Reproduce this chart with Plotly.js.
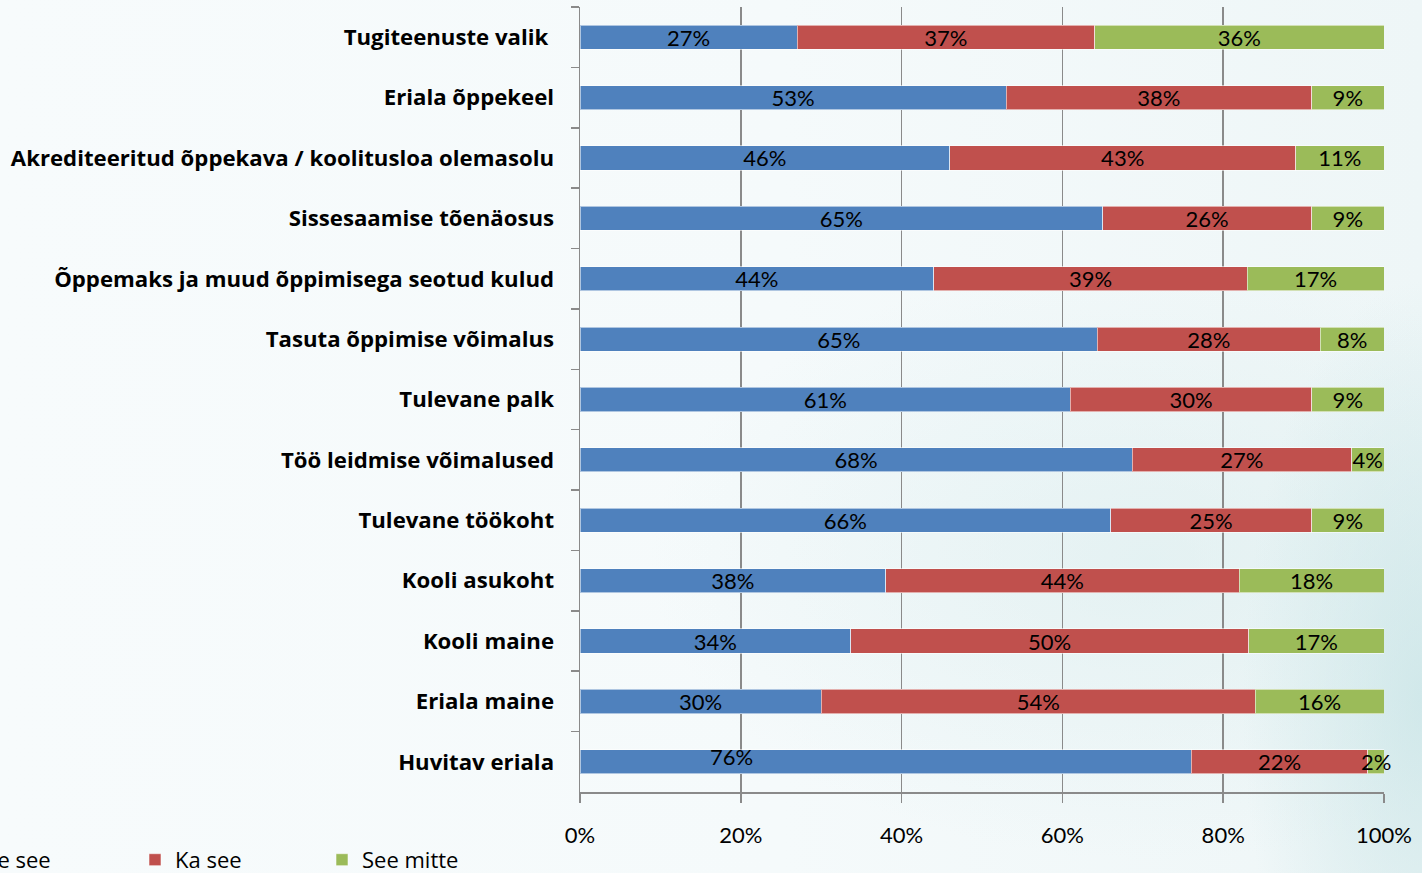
<!DOCTYPE html>
<html><head><meta charset="utf-8">
<script src="https://cdn.plot.ly/plotly-3.0.1.min.js"></script>
<style>
html,body{margin:0;padding:0;width:1422px;height:873px;overflow:hidden;}
body{background:
 radial-gradient(ellipse 180px 420px at 1422px 700px, rgba(200,228,230,0.75), rgba(200,228,230,0) 100%),
 radial-gradient(ellipse 500px 300px at 1150px 560px, rgba(215,235,236,0.5), rgba(215,235,236,0) 100%),
 linear-gradient(90deg,#f7fbfc 0%,#f5fafb 55%,#eef6f7 100%);}
#chart{width:1422px;height:873px;}
</style></head><body><div id="chart"></div>
<script>
const categories = [
 'Tugiteenuste valik\u00a0',
 'Eriala õppekeel',
 'Akrediteeritud õppekava / koolitusloa olemasolu',
 'Sissesaamise tõenäosus',
 'Õppemaks ja muud õppimisega seotud kulud',
 'Tasuta õppimise võimalus',
 'Tulevane palk',
 'Töö leidmise võimalused',
 'Tulevane töökoht',
 'Kooli asukoht',
 'Kooli maine',
 'Eriala maine',
 'Huvitav eriala'
];
const eelkoigeSee = [27,53,46,65,44,65,61,68,66,38,34,30,76];
const kaSee       = [37,38,43,26,39,28,30,27,25,44,50,54,22];
const seeMitte    = [36, 9,11, 9,17, 8, 9, 4, 9,18,17,16, 2];
const seriesNames = ['Eelkõige see','Ka see','See mitte'];
const seriesColors = ['#4f81bd','#c0504d','#9bbb59'];
const tickValues = [0,20,40,60,80,100];
const tickLabels = ['0%','20%','40%','60%','80%','100%'];

const FONT = 'Lato, "Open Sans", sans-serif';
const CATFONT = '"Open Sans", Lato, sans-serif';
const lab = v => v + '%';
const last = categories.length - 1;
const lastCat = categories[last];
// In the reference the last row's "76%" label is shifted off-centre and the "2%" label
// overflows the plot edge; both are drawn as annotations at data coordinates.
const blueText  = eelkoigeSee.map((v,i) => i === last ? '' : lab(v));
const greenText = seeMitte.map((v,i) => i === last ? '' : lab(v));
const rowTotal = eelkoigeSee[last] + kaSee[last] + seeMitte[last];
const greenMid = (eelkoigeSee[last] + kaSee[last] + seeMitte[last]/2) / rowTotal * 100;

function mk(vals, i, legendId, text){
  return {
    type:'bar', orientation:'h', name: seriesNames[i],
    y: categories, x: vals,
    text: text || vals.map(lab), texttemplate:'%{text}',
    textposition:'inside', insidetextanchor:'middle', constraintext:'none', textangle:0,
    textfont:{family:FONT, size:22, color:'#000'},
    marker:{color:seriesColors[i], line:{color:'rgba(255,255,255,0.55)', width:1}},
    legend: legendId, hoverinfo:'x+y'
  };
}
const data = [
  mk(eelkoigeSee,0,'legend',blueText),
  mk(kaSee,1,'legend2'),
  mk(seeMitte,2,'legend3',greenText)
];
const legBase = {orientation:'h', font:{family:CATFONT, size:22, color:'#000'}, bgcolor:'rgba(0,0,0,0)', borderwidth:0, yref:'container', y:0.015, yanchor:'middle', xanchor:'left'};
const layout = {
  width:1422, height:873,
  paper_bgcolor:'rgba(0,0,0,0)', plot_bgcolor:'rgba(0,0,0,0)',
  margin:{l:580, r:38, t:7, b:81, autoexpand:false},
  barmode:'stack', barnorm:'percent', bargap:0.6,
  font:{family:FONT, size:22, color:'#000'},
  xaxis:{range:[0,100], tickmode:'array', tickvals:tickValues, ticktext:tickLabels, showgrid:true, gridcolor:'#8a8a8a', gridwidth:1.5,
         showline:true, linecolor:'#8a8a8a', linewidth:1.5, ticks:'outside', ticklen:9, tickwidth:1.5, tickcolor:'#8a8a8a',
         zeroline:false, ticklabelstandoff:14, tickfont:{family:FONT, size:22, color:'#000'}, fixedrange:true},
  yaxis:{type:'category', autorange:'reversed', tickson:'boundaries', ticks:'outside', ticklen:8, tickwidth:1.5, tickcolor:'#8a8a8a',
         showline:true, linecolor:'#8a8a8a', linewidth:1.5, showgrid:false, ticklabelstandoff:20,
         tickfont:{family:CATFONT, size:22.2, color:'#000', weight:'bold'}, fixedrange:true},
  legend: Object.assign({}, legBase, {xref:'paper', x:(-115-580)/804}),
  legend2: Object.assign({}, legBase, {xref:'container', x:135/1422}),
  legend3: Object.assign({}, legBase, {xref:'container', x:322/1422}),
  annotations:[
    {x:18.8, y:lastCat, xref:'x', yref:'y', text:lab(eelkoigeSee[last]), showarrow:false, yshift:5,
     font:{family:FONT, size:22, color:'#000'}},
    {x:greenMid, y:lastCat, xref:'x', yref:'y', text:lab(seeMitte[last]), showarrow:false,
     font:{family:FONT, size:22, color:'#000'}}
  ],
  showlegend:true
};
Plotly.newPlot('chart', data, layout, {displayModeBar:false, staticPlot:true});
</script></body></html>
